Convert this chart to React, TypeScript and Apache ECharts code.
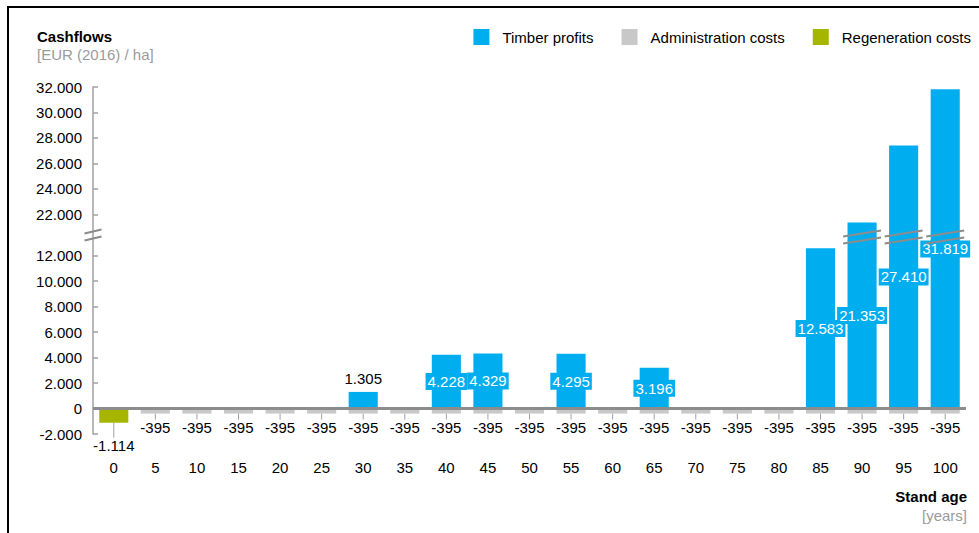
import React, { useEffect, useRef } from 'react';
import * as echarts from 'echarts';

const standAge = ['0', '5', '10', '15', '20', '25', '30', '35', '40', '45', '50', '55', '60', '65', '70', '75', '80', '85', '90', '95', '100'];
const timberProfits: (number | null)[] = [null, null, null, null, null, null, 1305, null, 4228, 4329, null, 4295, null, 3196, null, null, null, 12583, 21353, 27410, 31819];
const administrationCosts: (number | null)[] = [null, -395, -395, -395, -395, -395, -395, -395, -395, -395, -395, -395, -395, -395, -395, -395, -395, -395, -395, -395, -395];
const regenerationCosts: (number | null)[] = [-1114, null, null, null, null, null, null, null, null, null, null, null, null, null, null, null, null, null, null, null, null];
const yTickValues = [-2000, 0, 2000, 4000, 6000, 8000, 10000, 12000, 22000, 24000, 26000, 28000, 30000, 32000];

const Y_MIN = -2000;
const Y_MAX = 32000;
// broken axis: values between BREAK_START and BREAK_END are squeezed into BREAK_GAP
const BREAK_START = 12700;
const BREAK_END = 21300;
const BREAK_GAP = 1850;

const toAxis = (v: number) =>
  v <= BREAK_START ? v : v >= BREAK_END ? v - (BREAK_END - BREAK_START) + BREAK_GAP : BREAK_START + ((v - BREAK_START) / (BREAK_END - BREAK_START)) * BREAK_GAP;
const fromAxis = (a: number) =>
  a <= BREAK_START ? a : a >= BREAK_START + BREAK_GAP ? a + (BREAK_END - BREAK_START) - BREAK_GAP : BREAK_START + ((a - BREAK_START) / BREAK_GAP) * (BREAK_END - BREAK_START);

const BLUE = '#00aeef';
const GREY = '#c8c8c8';
const OLIVE = '#a6b500';
const FONT = '"Liberation Sans", Arial, sans-serif';
const FS = 15;

const fmt = (v: number) => {
  const s = Math.abs(Math.round(v)).toString().replace(/\B(?=(\d{3})+(?!\d))/g, '.');
  return (v < 0 ? '-' : '') + s;
};

export default function App() {
  const ref = useRef<HTMLDivElement>(null);
  useEffect(() => {
    if (!ref.current) return;
    const chart = echarts.init(ref.current, null, { renderer: 'svg' });

    const timberData = timberProfits.map((v) =>
      v == null
        ? null
        : v < 2000
        ? { value: toAxis(v), label: { position: 'top', color: '#000', backgroundColor: 'transparent', distance: 5 } }
        : toAxis(v)
    );

    const breakMarks: number[][] = [[0, 1]];
    timberProfits.forEach((v, i) => {
      if (v != null && v > BREAK_END) breakMarks.push([i, 0]);
    });

    const tickAxisValues = yTickValues.map(toAxis);

    chart.setOption({
      animation: false,
      textStyle: { fontFamily: FONT },
      title: {
        text: 'Cashflows',
        subtext: '[EUR (2016) / ha]',
        left: 37,
        top: 29,
        padding: 0,
        itemGap: 3,
        textStyle: { fontSize: FS, fontWeight: 'bold', color: '#000', fontFamily: FONT },
        subtextStyle: { fontSize: FS, color: '#9a9a9a', fontFamily: FONT },
      },
      graphic: [
        {
          type: 'text',
          right: 12,
          top: 489,
          style: { text: 'Stand age', fontSize: FS, fontWeight: 'bold', fill: '#000', fontFamily: FONT },
        },
        {
          type: 'text',
          right: 12,
          top: 508,
          style: { text: '[years]', fontSize: FS, fill: '#9a9a9a', fontFamily: FONT },
        },
      ],
      legend: {
        data: ['Timber profits', 'Administration costs', 'Regeneration costs'],
        right: 8,
        top: 29,
        padding: 0,
        itemWidth: 16,
        itemHeight: 16,
        itemGap: 28,
        icon: 'rect',
        selectedMode: false,
        textStyle: { fontSize: FS, color: '#000', fontFamily: FONT, padding: [0, 0, 0, 8] },
      },
      grid: { left: 93, right: 13, top: 87, bottom: 99 },
      xAxis: {
        type: 'category',
        data: standAge,
        axisLine: { show: false, onZero: false },
        axisTick: { show: false },
        axisLabel: { margin: 26, fontSize: FS, color: '#000', fontFamily: FONT },
      },
      yAxis: {
        type: 'value',
        min: toAxis(Y_MIN),
        max: toAxis(Y_MAX),
        axisLine: { show: true, lineStyle: { color: '#a0a0a0', width: 1.5 } },
        axisTick: { show: true, inside: true, length: 5, customValues: tickAxisValues, lineStyle: { color: '#a0a0a0', width: 1.5 } },
        splitLine: { show: false },
        axisLabel: {
          margin: 11,
          fontSize: FS,
          color: '#000',
          fontFamily: FONT,
          customValues: tickAxisValues,
          formatter: (value: number) => fmt(fromAxis(value)),
        },
      },
      series: [
        {
          name: 'Timber profits',
          type: 'bar',
          stack: 'cf',
          barWidth: '70%',
          data: timberData,
          itemStyle: { color: BLUE },
          label: {
            show: true,
            position: 'inside',
            color: '#fff',
            fontSize: FS,
            fontFamily: FONT,
            backgroundColor: BLUE,
            padding: [1, 2],
            formatter: (p: any) => fmt(timberProfits[p.dataIndex] as number),
          },
        },
        {
          name: 'Administration costs',
          type: 'bar',
          stack: 'cf',
          barWidth: '70%',
          data: administrationCosts,
          itemStyle: { color: GREY },
          label: {
            show: true,
            position: 'bottom',
            distance: 0,
            color: '#000',
            fontSize: FS,
            fontFamily: FONT,
            formatter: (p: any) => fmt(administrationCosts[p.dataIndex] as number),
          },
          labelLayout: { dy: 6 },
          labelLine: { show: true, lineStyle: { color: '#a0a0a0', width: 1 } },
          markLine: {
            silent: true,
            symbol: 'none',
            label: { show: false },
            lineStyle: { color: '#8c8c8c', width: 3, type: 'solid' },
            data: [{ yAxis: 0 }],
          },
        },
        {
          name: 'Regeneration costs',
          type: 'bar',
          stack: 'cf',
          barWidth: '70%',
          data: regenerationCosts,
          itemStyle: { color: OLIVE },
          label: {
            show: true,
            position: 'bottom',
            distance: 0,
            color: '#000',
            fontSize: FS,
            fontFamily: FONT,
            formatter: (p: any) => fmt(regenerationCosts[p.dataIndex] as number),
          },
          labelLayout: { dy: 15 },
          labelLine: { show: true, lineStyle: { color: '#a0a0a0', width: 1 } },
        },
        {
          type: 'custom',
          silent: true,
          clip: false,
          z: 10,
          data: breakMarks,
          renderItem: (_params: any, api: any) => {
            const i = api.value(0);
            const isAxis = api.value(1) === 1;
            const lo = api.coord([i, toAxis(BREAK_START)]);
            const hi = api.coord([i, toAxis(BREAK_END)]);
            const cy = (lo[1] + hi[1]) / 2 + (isAxis ? 0 : 2);
            const w = api.size([1, 0])[0];
            const cx = isAxis ? lo[0] - w / 2 : lo[0];
            const half = isAxis ? 8.5 : 19;
            const slope = isAxis ? 2 : 3;
            const style = { stroke: '#8c8c8c', lineWidth: 2 };
            return {
              type: 'group',
              children: [
                { type: 'line', shape: { x1: cx - half, y1: cy - 3.5 + slope, x2: cx + half, y2: cy - 3.5 - slope }, style },
                { type: 'line', shape: { x1: cx - half, y1: cy + 3.5 + slope, x2: cx + half, y2: cy + 3.5 - slope }, style },
              ],
            };
          },
        },
      ],
    });
    return () => chart.dispose();
  }, []);

  return (
    <>
      <div ref={ref} style={{ position: 'fixed', left: 0, top: 0, width: 979, height: 533, background: '#fff' }} />
      <div
        style={{
          position: 'fixed',
          left: 7,
          top: 6,
          width: 1100,
          height: 700,
          borderLeft: '2px solid #000',
          borderTop: '2px solid #000',
          pointerEvents: 'none',
        }}
      />
    </>
  );
}
